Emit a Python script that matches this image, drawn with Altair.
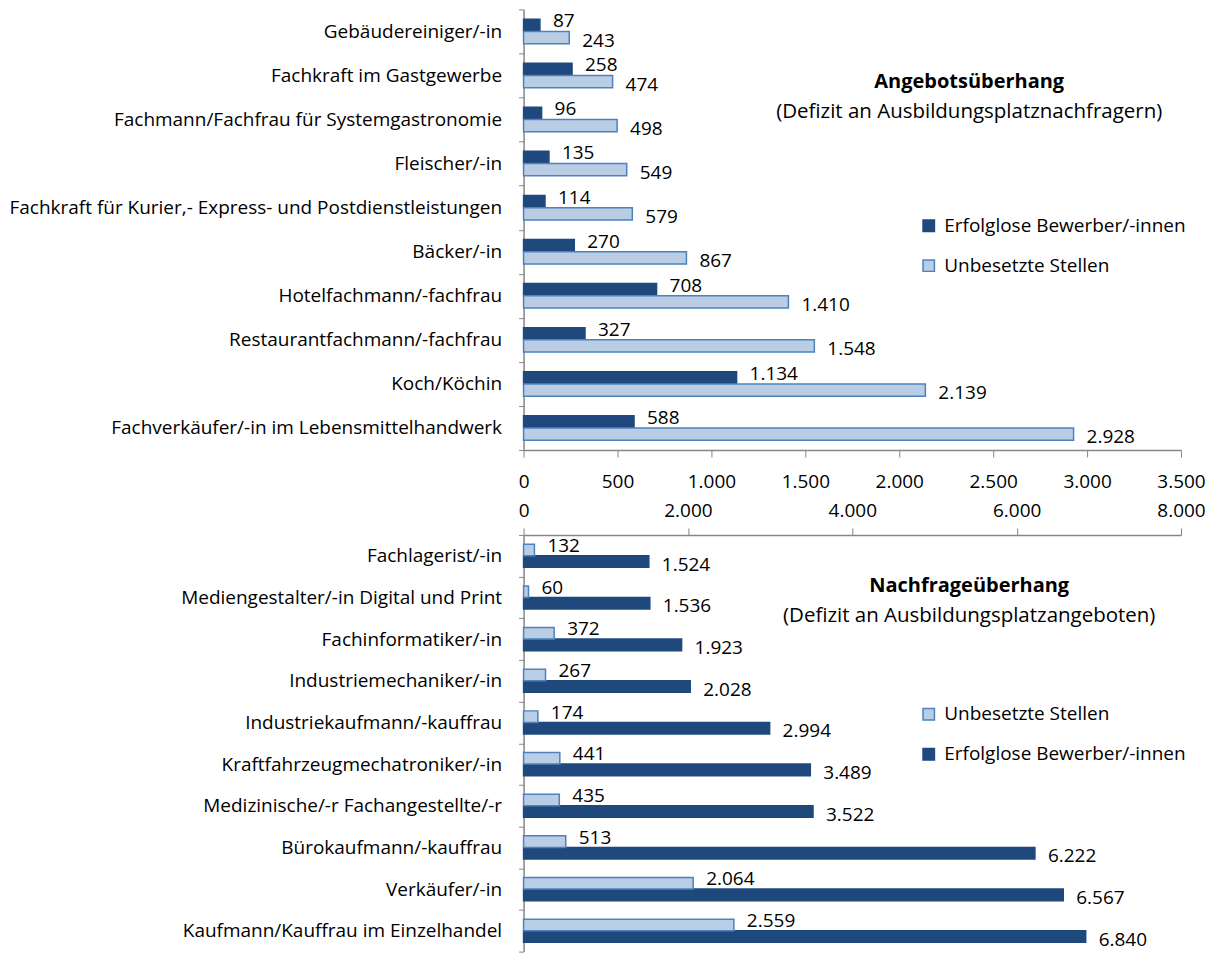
import altair as alt
import pandas as pd

FONT = "Open Sans"
FS = 19

top_categories = [
    "Gebäudereiniger/-in",
    "Fachkraft im Gastgewerbe",
    "Fachmann/Fachfrau für Systemgastronomie",
    "Fleischer/-in",
    "Fachkraft für Kurier,- Express- und Postdienstleistungen",
    "Bäcker/-in",
    "Hotelfachmann/-fachfrau",
    "Restaurantfachmann/-fachfrau",
    "Koch/Köchin",
    "Fachverkäufer/-in im Lebensmittelhandwerk",
]
top_bewerber = [87, 258, 96, 135, 114, 270, 708, 327, 1134, 588]
top_stellen = [243, 474, 498, 549, 579, 867, 1410, 1548, 2139, 2928]

bottom_categories = [
    "Fachlagerist/-in",
    "Mediengestalter/-in Digital und Print",
    "Fachinformatiker/-in",
    "Industriemechaniker/-in",
    "Industriekaufmann/-kauffrau",
    "Kraftfahrzeugmechatroniker/-in",
    "Medizinische/-r Fachangestellte/-r",
    "Bürokaufmann/-kauffrau",
    "Verkäufer/-in",
    "Kaufmann/Kauffrau im Einzelhandel",
]
bottom_stellen = [132, 60, 372, 267, 174, 441, 435, 513, 2064, 2559]
bottom_bewerber = [1524, 1536, 1923, 2028, 2994, 3489, 3522, 6222, 6567, 6840]

S_BEW = "Erfolglose Bewerber/-innen"
S_STE = "Unbesetzte Stellen"

top_ticks = [0, 500, 1000, 1500, 2000, 2500, 3000, 3500]
bottom_ticks = [0, 2000, 4000, 6000, 8000]

DARK = "#1F497D"
LIGHT = "#B9CDE5"
LIGHT_STROKE = "#4F81BD"
AXIS_GRAY = "#868686"


def de(v):
    return f"{v:,}".replace(",", ".")


def make_df(cats, bew, ste):
    rows = []
    for c, b, s in zip(cats, bew, ste):
        rows.append({"cat": c, "series": S_BEW, "value": b, "label": de(b)})
        rows.append({"cat": c, "series": S_STE, "value": s, "label": de(s)})
    return pd.DataFrame(rows)


def legend(legend_y):
    return alt.Legend(orient="none", legendX=396, legendY=legend_y,
                      labelFont=FONT, labelFontSize=FS, labelColor="#000000",
                      symbolType="square", symbolSize=130, symbolStrokeWidth=1.5,
                      rowPadding=20, labelOffset=6, labelLimit=400)


def panel(cats, bew, ste, order, xmax, ticks, height, x_orient, x_pad,
          title, subtitle, title_y, legend_y):
    df = make_df(cats, bew, ste)
    fill_range = [DARK if s == S_BEW else LIGHT for s in order]
    stroke_range = [DARK if s == S_BEW else LIGHT_STROKE for s in order]

    y_enc = alt.Y("cat:N", sort=cats, title=None,
                  scale=alt.Scale(paddingInner=0, paddingOuter=0),
                  axis=alt.Axis(orient="left", tickBand="extent", labelFont=FONT,
                                labelFontSize=FS, labelColor="#000000",
                                labelPadding=17, tickSize=5, tickColor=AXIS_GRAY,
                                domainColor=AXIS_GRAY, domainWidth=1.5, labelLimit=700))
    yoff = alt.YOffset("series:N", sort=order,
                       scale=alt.Scale(paddingInner=0, paddingOuter=0.8))
    x_enc = alt.X("value:Q", title=None,
                  scale=alt.Scale(domain=[0, xmax], nice=False),
                  axis=alt.Axis(orient=x_orient, values=ticks, labelFont=FONT,
                                labelFontSize=FS, labelColor="#000000",
                                labelExpr="replace(format(datum.value, ','), ',', '.')",
                                tickSize=7, tickColor=AXIS_GRAY, domainColor=AXIS_GRAY,
                                domainWidth=1.5, labelPadding=x_pad, grid=False,
                                labelFlush=False))

    bars = alt.Chart(df).mark_bar(strokeWidth=1.5).encode(
        y=y_enc, yOffset=yoff, x=x_enc,
        fill=alt.Fill("series:N", sort=order, title=None,
                      scale=alt.Scale(domain=order, range=fill_range),
                      legend=legend(legend_y)),
        stroke=alt.Stroke("series:N", sort=order, title=None,
                          scale=alt.Scale(domain=order, range=stroke_range),
                          legend=legend(legend_y)),
    )

    upper, lower = order[0], order[1]
    lab_up = alt.Chart(df).transform_filter(alt.datum.series == upper).mark_text(
        align="left", baseline="middle", dx=13, dy=-4, font=FONT, fontSize=FS,
        color="#000000").encode(y=alt.Y("cat:N", sort=cats), yOffset=yoff,
                                x="value:Q", text="label:N")
    lab_lo = alt.Chart(df).transform_filter(alt.datum.series == lower).mark_text(
        align="left", baseline="middle", dx=13, dy=3, font=FONT, fontSize=FS,
        color="#000000").encode(y=alt.Y("cat:N", sort=cats), yOffset=yoff,
                                x="value:Q", text="label:N")

    ann = pd.DataFrame({"t": [title, subtitle], "w": ["bold", "normal"]})
    t1 = alt.Chart(ann).transform_filter(alt.datum.w == "bold").mark_text(
        align="center", baseline="middle", font=FONT, fontSize=20, fontWeight="bold",
        color="#000000").encode(text="t:N", x=alt.value(446), y=alt.value(title_y))
    t2 = alt.Chart(ann).transform_filter(alt.datum.w == "normal").mark_text(
        align="center", baseline="middle", font=FONT, fontSize=20.5,
        color="#000000").encode(text="t:N", x=alt.value(446), y=alt.value(title_y + 30))

    return alt.layer(bars, lab_up, lab_lo, t1, t2).resolve_scale(
        fill="shared", stroke="shared").properties(width=658, height=height)


top = panel(top_categories, top_bewerber, top_stellen, [S_BEW, S_STE], 3500,
            top_ticks, 441, "bottom", 16, "Angebotsüberhang",
            "(Defizit an Ausbildungsplatznachfragern)", 73, 207)
bottom = panel(bottom_categories, bottom_bewerber, bottom_stellen, [S_STE, S_BEW], 8000,
               bottom_ticks, 417, "top", 7, "Nachfrageüberhang",
               "(Defizit an Ausbildungsplatzangeboten)", 51, 170)

chart = alt.vconcat(top, bottom, spacing=10).resolve_scale(
    x="independent", y="independent", yOffset="independent",
    fill="independent", stroke="independent"
).properties(
    padding={"left": 0, "top": -8, "right": 5, "bottom": 0},
    background="white",
).configure_view(stroke=None)

chart.save("out.html", embed_options={"renderer": "svg", "actions": False})
